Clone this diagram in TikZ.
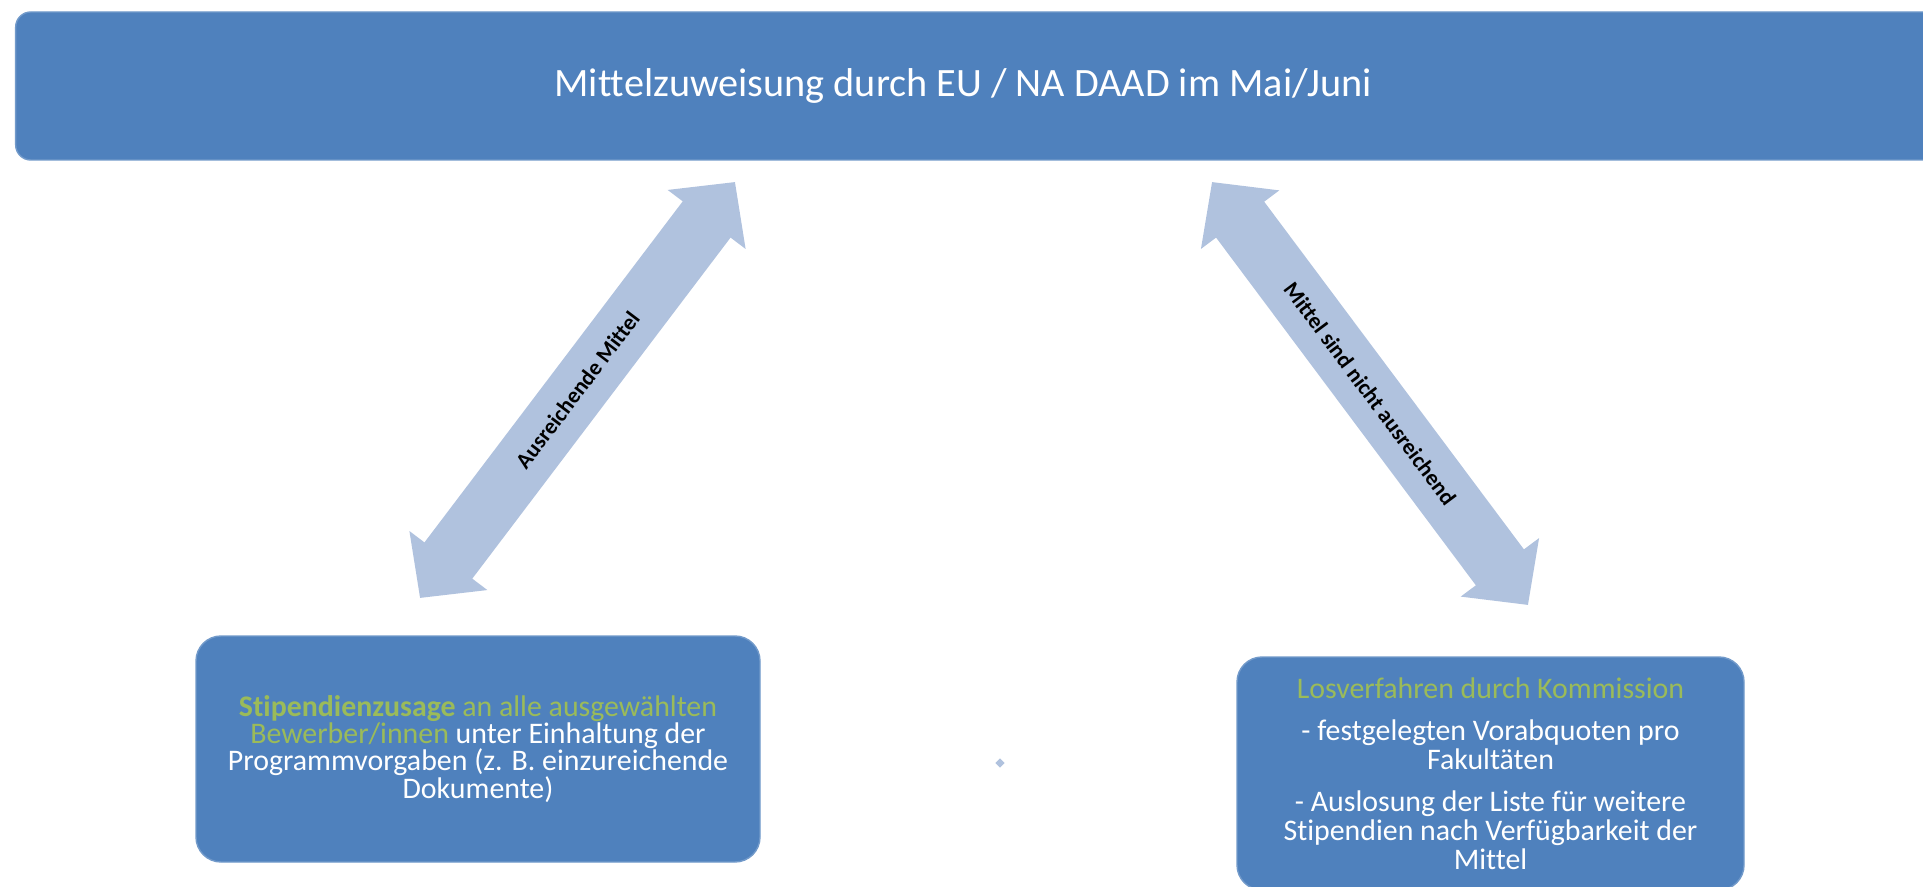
\documentclass[tikz,border=0pt]{standalone}
\usepackage{fontspec}
\setmainfont{Carlito}[Ligatures=NoCommon]
\usepackage{xcolor}
\usetikzlibrary{shapes,arrows.meta,positioning,calc}
\definecolor{boxblue}{HTML}{4F81BD}
\definecolor{arrowblue}{HTML}{B0C2DE}
\definecolor{textgreen}{HTML}{9BBB59}

\begin{document}
\begin{tikzpicture}[
  box/.style={rectangle, rounded corners=0.25cm, fill=boxblue, draw=boxblue!80!white, line width=0.4pt, text=white, align=center, inner sep=0pt},
  bigarrow/.style={arrowblue, line width=0.6cm, {Triangle[width=0.95cm,length=0.47cm]}-{Triangle[width=0.95cm,length=0.47cm]}},
  arrowlabel/.style={midway, sloped, text=black, font=\fontsize{6.4}{7.6}\selectfont\bfseries}
]
\path[use as bounding box, clip] (0,0) rectangle (19.23,8.86);

% Top banner
\node[box, rounded corners=0.15cm, minimum width=19.45cm, minimum height=1.48cm, anchor=west] (banner) at (0.15,8.0) {};
\node[text=white, font=\fontsize{11.45}{13.5}\selectfont] (title) at (9.63,8.0) {Mittelzuweisung durch EU / NA DAAD im Mai/Juni};

% Double arrows
\coordinate (lefttop) at (7.35,7.04);
\coordinate (leftbot) at (4.20,2.88);
\coordinate (righttop) at (12.12,7.04);
\coordinate (rightbot) at (15.28,2.81);
\draw[bigarrow] (leftbot) -- node[arrowlabel] (lefttext) {Ausreichende Mittel} (lefttop);
\draw[bigarrow] (righttop) -- node[arrowlabel] (righttext) {Mittel sind nicht ausreichend} (rightbot);

% Lower boxes
\node[box, minimum width=5.64cm, minimum height=2.26cm, font=\fontsize{8.5}{7.7}\selectfont] (grant) at (4.78,1.37)
  {{\bfseries\color{textgreen}Stipendienzusage} {\color{textgreen}an alle ausgewählten}\\
   {\color{textgreen}Bewerber/innen} unter Einhaltung der\\
   Programmvorgaben (z. B. einzureichende\\
   Dokumente)};
\node[box, minimum width=5.07cm, minimum height=2.33cm, font=\fontsize{8.5}{8.2}\selectfont] (lottery) at (14.905,1.125)
  {{\color{textgreen}Losverfahren durch Kommission}\\[3.8pt]
   - festgelegten Vorabquoten pro\\
   Fakultäten\\[3.8pt]
   - Auslosung der Liste für weitere\\
   Stipendien nach Verfügbarkeit der\\
   Mittel};

% Small marker
\node[diamond, fill=arrowblue, minimum size=0.1cm, inner sep=0pt] (marker) at (10.00,1.23) {};
\end{tikzpicture}
\end{document}
